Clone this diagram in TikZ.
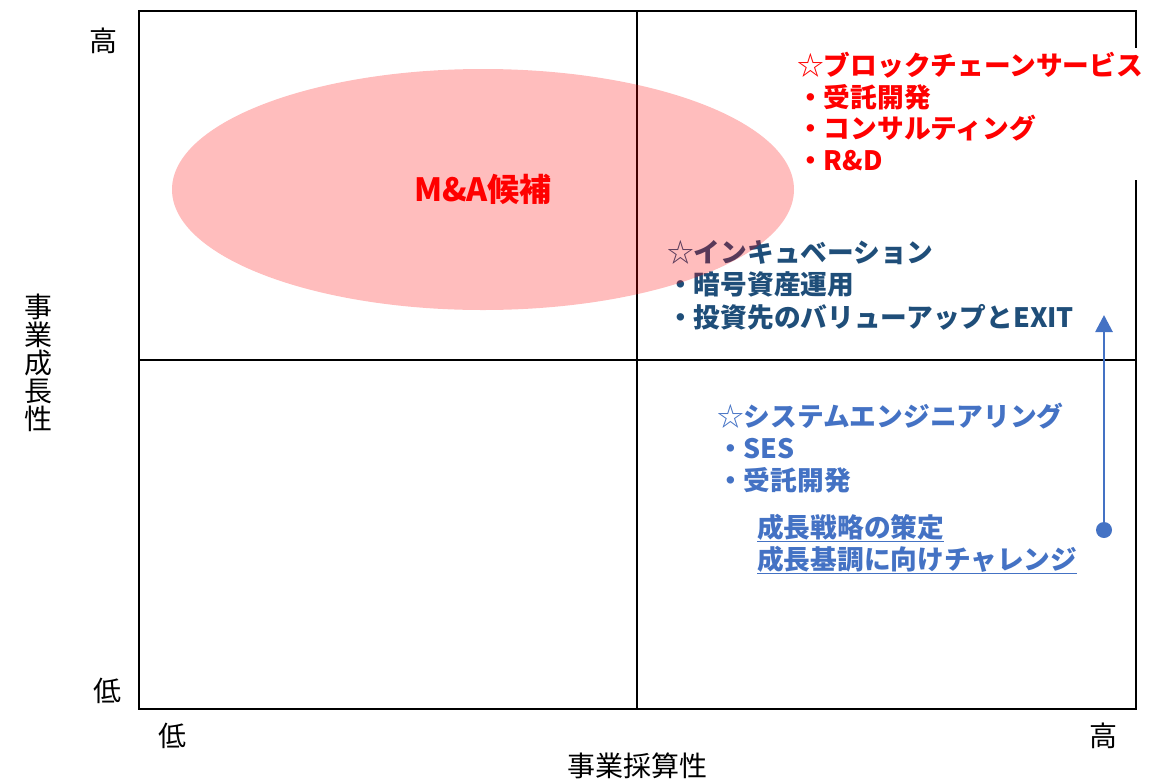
\documentclass[tikz,border=0pt]{standalone}
\usepackage{fontspec}
\newfontfamily\jp{Noto Sans CJK JP}
\usetikzlibrary{arrows.meta,shapes.geometric}
\definecolor{incub}{RGB}{31,78,121}
\definecolor{sysblue}{RGB}{68,114,196}
\tikzset{
  frameline/.style={line width=2.8pt,black},
  axislbl/.style={font=\jp\fontsize{28}{28}\selectfont, inner sep=0pt, text=black},
  linetxt/.style={inner sep=0pt, anchor=base west, font=\jp\bfseries\fontsize{26.7}{31}\selectfont},
  redtxt/.style={linetxt, text=red},
  inctxt/.style={linetxt, text=incub},
  systxt/.style={linetxt, text=sysblue},
}
\newcommand{\wstar}{{\mdseries ☆}}
\begin{document}
\begin{tikzpicture}[x=1pt,y=-1pt]
\useasboundingbox (0,0) rectangle (1160,780);
% frame
\coordinate (tl) at (139,11);
\coordinate (br) at (1136,709);
\coordinate (mt) at (637,11);
\coordinate (mb) at (637,709);
\coordinate (ml) at (139,360);
\coordinate (mr) at (1136,360);
\draw[frameline] (tl) rectangle (br);
\draw[frameline] (mt) -- (mb);
\draw[frameline] (ml) -- (mr);
% white patch behind the red text box
\fill[white] (1120,48) rectangle (1152,180);
% axis labels
\node[axislbl] (yhi) at (103,41) {高};
\node[axislbl] (ylo) at (107,691) {低};
\node[axislbl] (xlo) at (172,736) {低};
\node[axislbl] (xhi) at (1103,736) {高};
\node[axislbl] (xlab) at (637,766) {事業採算性};
\node[axislbl, align=center] (ylab) at (38,363) {事\\業\\成\\長\\性};
% red block
\node[redtxt] (r0) at (797,75) {\wstar ブロックチェーンサービス};
\node[redtxt] (r1) at (797,107) {・受託開発};
\node[redtxt] (r2) at (797,138.5) {・コンサルティング};
\node[redtxt] (r3) at (797,170) {・R\&D};
% incubation block
\node[inctxt] (i0) at (667,262) {\wstar インキュベーション};
\node[inctxt] (i1) at (667,294.5) {・暗号資産運用};
\node[inctxt] (i2) at (667,327) {・投資先のバリューアップとEXIT};
% system engineering block
\node[systxt] (s0) at (717,426) {\wstar システムエンジニアリング};
\node[systxt] (s1) at (717,458) {・SES};
\node[systxt] (s2) at (717,490) {・受託開発};
\node[systxt] (u0) at (757,537) {\underline{成長戦略の策定}};
\node[systxt] (u1) at (757,569) {\underline{成長基調に向けチャレンジ}};
% growth arrow
\coordinate (dot) at (1104,530);
\coordinate (tip) at (1104,315);
\draw[sysblue, line width=2.8pt, -{Triangle[width=17pt,length=17pt]}] (dot) -- (tip);
\fill[sysblue] (dot) circle[radius=8pt];
% M&A ellipse
\node[ellipse, minimum width=622pt, minimum height=241pt, inner sep=0pt,
      fill=red, fill opacity=0.26, text opacity=1, text=red,
      font=\jp\bfseries\fontsize{32}{32}\selectfont] (ma) at (483,189.5) {M\&A候補};
\end{tikzpicture}
\end{document}
